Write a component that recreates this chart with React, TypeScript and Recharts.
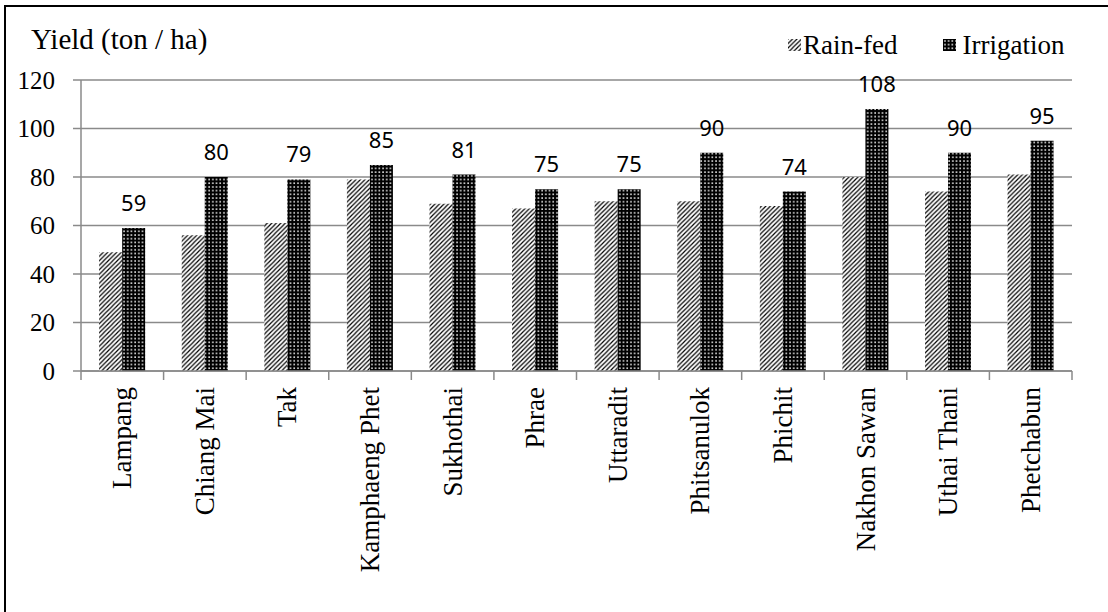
import React from "react";
import { BarChart, Bar, XAxis, YAxis, CartesianGrid, LabelList } from "recharts";

const provinces = [
  "Lampang", "Chiang Mai", "Tak", "Kamphaeng Phet", "Sukhothai", "Phrae",
  "Uttaradit", "Phitsanulok", "Phichit", "Nakhon Sawan", "Uthai Thani", "Phetchabun",
];
const rainFed = [49, 56, 61, 79, 69, 67, 70, 70, 68, 80, 74, 81];
const irrigation = [59, 80, 79, 85, 81, 75, 75, 90, 74, 108, 90, 95];
const yTicks = [0, 20, 40, 60, 80, 100, 120];

const data = provinces.map((p, i) => ({ name: p, rain: rainFed[i], irr: irrigation[i] }));

const W = 1108;
const H = 612;
const M = { top: 80, right: 36, bottom: 11, left: 5 };
const Y_W = 76;
const X_H = 230;
const PLOT_W = W - M.left - M.right - Y_W;
const BAND = PLOT_W / provinces.length;
const SERIF = "'Liberation Serif', 'Times New Roman', serif";
const GRID = "#8a8a8a";

const CatTick = (props: any) => {
  const { x, y, payload, index } = props;
  const axisY = y - 16;
  return (
    <g>
      <line x1={x - BAND / 2} x2={x - BAND / 2} y1={axisY} y2={axisY + 9} stroke={GRID} strokeWidth={1.5} />
      {index === provinces.length - 1 && (
        <line x1={x + BAND / 2} x2={x + BAND / 2} y1={axisY} y2={axisY + 9} stroke={GRID} strokeWidth={1.5} />
      )}
      <text
        x={x}
        y={y}
        transform={`rotate(-90, ${x}, ${y})`}
        textAnchor="end"
        dominantBaseline="central"
        fontFamily={SERIF}
        fontSize={27}
        fill="#000"
      >
        {payload.value}
      </text>
    </g>
  );
};

const ValTick = (props: any) => {
  const { y, payload } = props;
  const tx = M.left + Y_W - 26;
  return (
    <text x={tx} y={y} textAnchor="end" dominantBaseline="central" fontFamily={SERIF} fontSize={25} fill="#000">
      {payload.value}
    </text>
  );
};

const TopLabel = (props: any) => {
  const { x, y, width, value } = props;
  return (
    <text
      x={x + width / 2}
      y={y - 26}
      textAnchor="middle"
      dominantBaseline="central"
      fontFamily="'Noto Sans', 'Open Sans', sans-serif"
      fontSize={22}
      fill="#000"
    >
      {value}
    </text>
  );
};

export default function App() {
  return (
    <div style={{ position: "absolute", left: 0, top: 0, width: W, height: H, background: "#fff", overflow: "hidden" }}>
      <div
        style={{
          position: "absolute",
          left: 4,
          top: 5,
          width: W + 40,
          height: H + 40,
          borderTop: "2px solid #000",
          borderLeft: "2px solid #000",
        }}
      />
      <div
        style={{
          position: "absolute",
          left: 31,
          top: 22,
          fontFamily: SERIF,
          fontSize: 29,
          color: "#000",
          lineHeight: "34px",
          whiteSpace: "nowrap",
        }}
      >
        Yield (ton / ha)
      </div>
      <div style={{ position: "absolute", left: 0, top: 0 }}>
        <BarChart width={W} height={H} data={data} margin={M} barCategoryGap="22%" barGap={0}>
          <defs>
            <pattern id="hatchRain" patternUnits="userSpaceOnUse" width={4.5} height={4.5}>
              <rect width={4.5} height={4.5} fill="#fff" />
              <path d="M-1,1 l2,-2 M0,4.5 l4.5,-4.5 M3.5,5.5 l2,-2" stroke="#000" strokeWidth={1.2} />
            </pattern>
            <pattern id="gridIrr" patternUnits="userSpaceOnUse" width={3.7} height={3.7}>
              <rect width={3.7} height={3.7} fill="#000" />
              <rect x={1.2} y={1.2} width={1.5} height={1.5} fill="#fff" />
            </pattern>
          </defs>
          <CartesianGrid vertical={false} stroke={GRID} strokeWidth={1.5} />
          <XAxis
            dataKey="name"
            interval={0}
            height={X_H}
            tickLine={false}
            tickSize={9}
            tickMargin={7}
            tick={<CatTick />}
            axisLine={{ stroke: GRID, strokeWidth: 1.5 }}
          />
          <YAxis
            domain={[0, 120]}
            ticks={yTicks}
            width={Y_W}
            tickSize={8}
            tickMargin={18}
            tickLine={{ stroke: GRID, strokeWidth: 1.5 }}
            axisLine={{ stroke: GRID, strokeWidth: 1.5 }}
            tick={<ValTick />}
          />
          <Bar dataKey="rain" name="Rain-fed" fill="url(#hatchRain)" isAnimationActive={false} />
          <Bar dataKey="irr" name="Irrigation" fill="url(#gridIrr)" isAnimationActive={false}>
            <LabelList dataKey="irr" content={<TopLabel />} />
          </Bar>
        </BarChart>
      </div>
      <div
        style={{
          position: "absolute",
          left: 788,
          top: 30,
          display: "flex",
          alignItems: "center",
          fontFamily: SERIF,
          fontSize: 27,
          color: "#000",
          lineHeight: "30px",
          whiteSpace: "nowrap",
        }}
      >
        <svg width={13} height={12} style={{ marginRight: 2 }}>
          <rect x={0} y={0} width={13} height={12} fill="url(#hatchRain)" />
        </svg>
        <span style={{ marginRight: 46 }}>Rain-fed</span>
        <svg width={13} height={12} style={{ marginRight: 6 }}>
          <rect x={0} y={0} width={13} height={12} fill="url(#gridIrr)" />
        </svg>
        <span>Irrigation</span>
      </div>
    </div>
  );
}
